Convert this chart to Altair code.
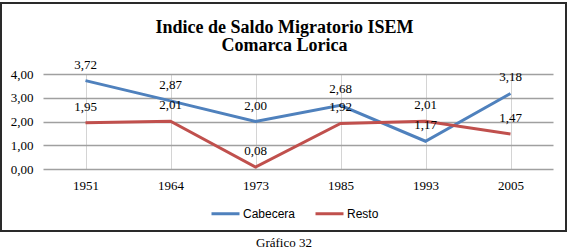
import altair as alt
import pandas as pd

years = ["1951", "1964", "1973", "1985", "1993", "2005"]
cabecera = [3.72, 2.87, 2.00, 2.68, 1.17, 3.18]
resto = [1.95, 2.01, 0.08, 1.92, 2.01, 1.47]
series_names = ["Cabecera", "Resto"]
series_colors = ["#4F81BD", "#C0504D"]
title_lines = ["Indice de Saldo Migratorio ISEM", "Comarca Lorica"]
caption = ["Gráfico 32"]
y_ticks = [0, 1, 2, 3, 4]

rows = []
for name, vals in zip(series_names, [cabecera, resto]):
    for i, (y, v) in enumerate(zip(years, vals)):
        rows.append({"year": y, "value": v, "serie": name, "order": i,
                     "label": f"{v:.2f}".replace(".", ",")})
df = pd.DataFrame(rows)

W, H = 510, 95
PL, PT = 43, 74

x_enc = alt.X("year:N", sort=years, title=None,
              scale=alt.Scale(type="point", padding=0.5),
              axis=alt.Axis(labelAngle=0, ticks=False, domain=False, grid=True,
                            gridColor="#d4d4d4", gridWidth=1,
                            labelFont="Liberation Serif", labelFontSize=13,
                            labelColor="black", labelPadding=10))
y_enc = alt.Y("value:Q", title=None,
              scale=alt.Scale(domain=[0, 4], nice=False),
              axis=alt.Axis(values=y_ticks, ticks=False, domain=False,
                            labelOverlap=False,
                            gridColor="#a0a0a0", gridWidth=1.3,
                            labelExpr="replace(format(datum.value, '.2f'), '.', ',')",
                            labelFont="Liberation Serif", labelFontSize=13,
                            labelColor="black", labelPadding=10))

color_enc = alt.Color("serie:N", sort=series_names,
                      scale=alt.Scale(domain=series_names, range=series_colors),
                      legend=alt.Legend(orient="none", legendX=167, legendY=124,
                                        direction="horizontal", title=None,
                                        symbolType="stroke", symbolSize=784,
                                        symbolStrokeWidth=3, labelFont="Liberation Sans",
                                        labelFontSize=12, labelColor="black",
                                        labelOffset=2, columnPadding=13, padding=0))

base = alt.Chart(df)
lines = base.mark_line(strokeWidth=3).encode(x=x_enc, y=y_enc, color=color_enc,
                                              order="order:Q")
labels = base.mark_text(font="Liberation Serif", fontSize=13, color="black",
                        baseline="alphabetic", dy=-12).encode(
    x=x_enc, y=y_enc, text="label:N")

box = alt.Chart(pd.DataFrame({"k": [0]})).mark_rect(
    fill=None, stroke="#2a2a2a", strokeWidth=2, clip=False).encode(
    x=alt.value(1 - PL), x2=alt.value(566 - PL),
    y=alt.value(3 - PT), y2=alt.value(231 - PT))

title1 = alt.Chart(pd.DataFrame({"t": [title_lines[0]]})).mark_text(
    font="Liberation Serif", fontSize=18, fontWeight="bold", color="black",
    baseline="alphabetic", align="center").encode(
    x=alt.value(284.5 - PL), y=alt.value(33 - PT), text="t:N")
title2 = alt.Chart(pd.DataFrame({"t": [title_lines[1]]})).mark_text(
    font="Liberation Serif", fontSize=18, fontWeight="bold", color="black",
    baseline="alphabetic", align="center").encode(
    x=alt.value(284.5 - PL), y=alt.value(51 - PT), text="t:N")

cap = alt.Chart(pd.DataFrame({"t": caption})).mark_text(
    font="Liberation Serif", fontSize=13, color="black", baseline="alphabetic",
    align="center").encode(x=alt.value(284 - PL), y=alt.value(247 - PT), text="t:N")

chart = alt.layer(lines, labels, box, title1, title2, cap).properties(
    width=W, height=H,
    padding={"left": PL, "top": PT, "right": 568 - PL - W, "bottom": 250 - PT - H},
    autosize=alt.AutoSizeParams(type="none"),
    background="white",
).configure_view(stroke=None)

chart.save("out.html", embed_options={"renderer": "svg", "actions": False})
